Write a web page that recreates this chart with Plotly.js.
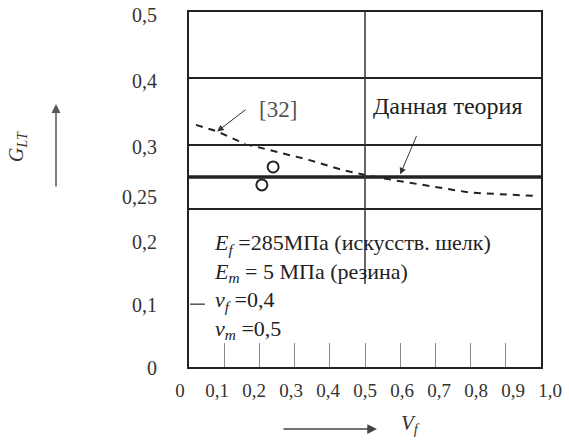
<!DOCTYPE html>
<html><head><meta charset="utf-8">
<script src="https://cdn.plot.ly/plotly-3.0.1.min.js"></script>
<style>html,body{margin:0;padding:0;background:#fff}#chart{width:569px;height:440px}</style>
</head><body><div id="chart"></div>
<script>
// Curve from reference [32]
const vf32 = [0.02, 0.08, 0.135, 0.16, 0.25, 0.34, 0.44, 0.5, 0.58, 0.7, 0.8, 0.99];
const g32  = [0.329, 0.319, 0.306, 0.300, 0.294, 0.288, 0.280, 0.2765, 0.2727, 0.2676, 0.2631, 0.2606];
// "Данная теория" (present theory)
const vfTheory = [0, 1];
const gTheory  = [0.275, 0.275];
// Experimental points
const vfExp = [0.239, 0.207];
const gExp  = [0.2826, 0.269];
// Tick labels
const xTickVals   = [0, 0.1, 0.2, 0.3, 0.4, 0.5, 0.6, 0.7, 0.8, 0.9, 1.0];
const xTickLabels = ['0', '0,1', '0,2', '0,3', '0,4', '0,5', '0,6', '0,7', '0,8', '0,9', '1,0'];
const xInnerTicks = [0.1, 0.2, 0.3, 0.4, 0.5, 0.6, 0.7, 0.8, 0.9];
const yTopVals = [0.3, 0.4, 0.5];   const yTopLabels = ['0,3', '0,4', '0,5'];
const yMidVals = [0.25];            const yMidLabels = ['0,25'];
const yLowVals = [0, 0.1, 0.2];     const yLowLabels = ['0', '0,1', '0,2'];
const BREAK_HI = 0.3;

// split the [32] curve over the broken axis
const upX = [], upY = [], loX = [], loY = [];
vf32.forEach((v, i) => {
  if (g32[i] >= BREAK_HI) { upX.push(v); upY.push(g32[i]); }
  if (g32[i] <= BREAK_HI) { loX.push(v); loY.push(g32[i]); }
});

const INK = '#222';
const FONT = 'Liberation Serif, Times New Roman, serif';
const DOM = [9/370, 361/370];

const dashStyle = {color: INK, width: 2, dash: '7px,6px'};
const traces = [
  {x: upX, y: upY, xaxis: 'x3', yaxis: 'y', mode: 'lines', line: dashStyle, hoverinfo: 'skip'},
  {x: loX, y: loY, xaxis: 'x', yaxis: 'y2', mode: 'lines', line: dashStyle, hoverinfo: 'skip'},
  {x: vfTheory, y: gTheory, xaxis: 'x', yaxis: 'y2', mode: 'lines', line: {color: INK, width: 3.5}, hoverinfo: 'skip'},
  {x: vfExp, y: gExp, xaxis: 'x', yaxis: 'y2', mode: 'markers',
   marker: {symbol: 'circle-open', size: 11, color: INK, line: {width: 2, color: INK}}, hoverinfo: 'skip'},
  // empty scaffold so the label-only x axis (x2) gets its own subplot; draws nothing
  {x: [], y: [], xaxis: 'x2', yaxis: 'y3', mode: 'markers', hoverinfo: 'skip'}
];

const yCommon = {
  anchor: 'x', showline: true, linecolor: INK, linewidth: 2, mirror: true,
  ticks: '', zeroline: false, tickmode: 'array', showgrid: false,
  tickfont: {family: FONT, size: 20, color: '#333'}, ticklabelstandoff: 26
};

const layout = {
  width: 569, height: 440,
  margin: {l: 180, r: 19, t: 12, b: 73},
  paper_bgcolor: '#fff', plot_bgcolor: 'rgba(0,0,0,0)',
  showlegend: false,
  font: {family: FONT, color: INK},
  // data axis for bottom/middle panels: box lines + inner ticks
  xaxis: {
    domain: DOM, range: [0, 1], anchor: 'y3', side: 'bottom',
    showline: true, linecolor: INK, linewidth: 2, mirror: true,
    ticks: 'inside', tickmode: 'array', tickvals: xInnerTicks, ticklen: 24, tickwidth: 1, tickcolor: '#888',
    showticklabels: false, showgrid: false, zeroline: false
  },
  // label-only axis
  xaxis2: {
    domain: [0, 1], range: [0, 1], anchor: 'y3', side: 'bottom',
    showline: false, showgrid: false, zeroline: false, ticks: '',
    tickmode: 'array', tickvals: xTickVals, ticktext: xTickLabels,
    tickfont: {family: FONT, size: 19, color: '#333'}, ticklabelstandoff: 10
  },
  // data axis for top panel (box lines at 0.3 and 0.5)
  xaxis3: {
    domain: DOM, range: [0, 1], anchor: 'y',
    showline: true, linecolor: INK, linewidth: 2, mirror: true,
    ticks: '', showticklabels: false, showgrid: false, zeroline: false
  },
  yaxis: Object.assign({}, yCommon, {
    domain: [223/355, 1], range: [0.3, 0.5], tickvals: yTopVals, ticktext: yTopLabels,
    showgrid: true, gridcolor: INK, gridwidth: 2, ticklabelshift: 3
  }),
  yaxis2: Object.assign({}, yCommon, {
    domain: [157/355, 223/355], range: [0.25, 0.3], tickvals: yMidVals, ticktext: yMidLabels,
    ticklabelshift: -13
  }),
  yaxis3: Object.assign({}, yCommon, {
    domain: [0, 157/355], range: [0, 0.25], tickvals: yLowVals, ticktext: yLowLabels,
    ticklabelshift: 1
  }),
  shapes: [
    {type: 'line', xref: 'x', yref: 'paper', x0: 0.5, x1: 0.5, y0: 83/355, y1: 1,
     line: {color: '#333', width: 1.5}},
    {type: 'line', xref: 'x', yref: 'y3', x0: 0.003, x1: 0.045, y0: 0.1, y1: 0.1,
     line: {color: '#555', width: 1.5}}
  ],
  annotations: [
    // y title + arrow
    {xref: 'paper', yref: 'paper', x: (17-180)/370, y: (367-147)/355, xanchor: 'center', yanchor: 'middle',
     text: '<i>G<sub>LT</sub></i>', showarrow: false, textangle: -90, font: {family: FONT, size: 20, color: '#333'}},
    {xref: 'paper', yref: 'paper', x: (56-180)/370, y: (367-104)/355, text: '', showarrow: true,
     ax: 0, ay: 84, arrowhead: 2, arrowsize: 1.2, arrowwidth: 1.5, arrowcolor: '#555'},
    // x title + arrow
    {xref: 'paper', yref: 'paper', x: (410-180)/370, y: (367-424)/355, xanchor: 'center', yanchor: 'middle',
     text: '<i>V<sub>f</sub></i>', showarrow: false, font: {family: FONT, size: 21, color: '#333'}},
    {xref: 'paper', yref: 'paper', x: (377-180)/370, y: (367-429)/355, text: '', showarrow: true,
     ax: -95, ay: 0, arrowhead: 2, arrowsize: 1.3, arrowwidth: 1.5, arrowcolor: '#444'},
    // [32] label + arrow
    {xref: 'paper', yref: 'paper', x: (278-180)/370, y: (367-110)/355, xanchor: 'center', yanchor: 'middle',
     text: '[32]', showarrow: false, font: {family: FONT, size: 23, color: '#555'}},
    {xref: 'x3', yref: 'y', x: vf32[1], y: g32[1], text: '', showarrow: true,
     ax: 30, ay: -23, arrowhead: 2, arrowsize: 1.3, arrowwidth: 1, arrowcolor: '#333'},
    // Данная теория label + arrow
    {xref: 'paper', yref: 'paper', x: (447-180)/370, y: (367-106)/355, xanchor: 'center', yanchor: 'middle',
     text: 'Данная теория', showarrow: false, font: {family: FONT, size: 24, color: INK}},
    {xref: 'x', yref: 'y2', x: 0.6, y: gTheory[0] + 0.002, text: '', showarrow: true,
     ax: 17, ay: -40, arrowhead: 2, arrowsize: 1.3, arrowwidth: 1, arrowcolor: '#333'},
    // parameters block
    {xref: 'paper', yref: 'paper', x: (212-180)/370, y: (367-286)/355, xanchor: 'left', yanchor: 'middle', align: 'left',
     showarrow: false, font: {family: FONT, size: 22, color: INK},
     text: '<i>E<sub>f</sub></i> =285МПа (искусств. шелк)<br><i>E<sub>m</sub></i> = 5 МПа (резина)<br><i>ν<sub>f</sub></i> =0,4<br><i>ν<sub>m</sub></i> =0,5'}
  ]
};

Plotly.newPlot('chart', traces, layout, {staticPlot: true, displayModeBar: false});
</script>
</body></html>
